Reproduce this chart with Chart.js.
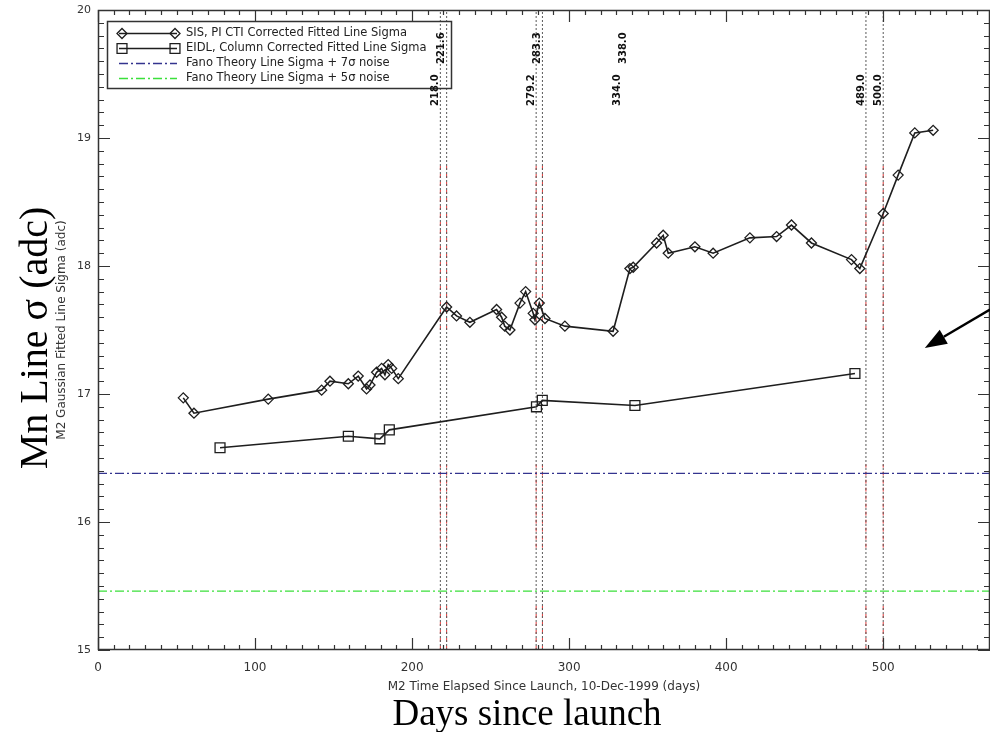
<!DOCTYPE html>
<html>
<head>
<meta charset="utf-8">
<script src="https://cdn.jsdelivr.net/npm/chart.js@4.4.1/dist/chart.umd.min.js"></script>
<style>
  html, body { margin: 0; padding: 0; background: #fff; overflow: hidden; }
  #wrap { position: relative; width: 990px; height: 732px; }
</style>
</head>
<body>
<div id="wrap"><canvas id="c" width="990" height="732"></canvas></div>
<script>
// M2 Mn K-alpha line width history: fitted Gaussian sigma vs days since launch

// SIS, PI CTI corrected fitted line sigma
const sisDays  = [54.3, 61.1, 108.4, 142.4, 147.7, 159.4, 165.7, 171.0, 173.2, 177.4, 180.6, 182.7, 184.8, 187.0, 191.2,
                  222.0, 228.3, 236.8, 253.8, 257.0, 259.0, 262.3, 268.7, 272.3, 277.1, 278.2, 281.0, 284.6, 297.3, 328.0,
                  338.7, 340.8, 355.7, 359.9, 363.1, 380.1, 391.7, 415.1, 432.1, 441.6, 454.3, 479.8, 485.1, 500.0, 509.5,
                  520.1, 531.8];
const sisSigma = [16.97, 16.85, 16.96, 17.03, 17.10, 17.08, 17.14, 17.04, 17.07, 17.17, 17.20, 17.15, 17.23, 17.20, 17.12,
                  17.68, 17.61, 17.56, 17.66, 17.60, 17.53, 17.50, 17.71, 17.80, 17.63, 17.58, 17.71, 17.59, 17.53, 17.49,
                  17.98, 17.99, 18.18, 18.24, 18.10, 18.15, 18.10, 18.22, 18.23, 18.32, 18.18, 18.05, 17.98, 18.41, 18.71,
                  19.04, 19.06];

// EIDL, column corrected fitted line sigma
const eidlDays  = [77.7, 159.4, 179.5, 185.5, 279.2, 282.9, 341.9, 482.0];
const eidlSigma = [16.58, 16.67, 16.65, 16.72, 16.90, 16.95, 16.91, 17.16];

// Fano theory levels
const fano7Sigma = 16.38;
const fano5Sigma = 15.46;

// Axis ranges
const dayRange   = [0, 568];
const sigmaRange = [15, 20];

// Instrument events (days) marked by vertical lines, and their notes
const eventDays     = [218, 222, 279, 283, 489, 500];
const eventRedSpans = [[15.0, 15.35], [15.8, 16.45], [17.5, 18.8]];
const noteDays  = [218, 222, 279, 283, 334, 338, 489, 500];
const noteTexts = ['218.0', '221.6', '279.2', '283.3', '334.0', '338.0', '489.0', '500.0'];

// Annotation arrow (day, sigma) tail -> head
const arrowTail = [568, 17.66];
const arrowHead = [526.5, 17.36];

const seriesLabels = [
  'SIS, PI CTI Corrected Fitted Line Sigma',
  'EIDL, Column Corrected Fitted Line Sigma',
  'Fano Theory Line Sigma + 7\u03c3 noise',
  'Fano Theory Line Sigma + 5\u03c3 noise'
];
const xTitle = 'M2 Time Elapsed Since Launch, 10-Dec-1999 (days)';
const yTitle = 'M2 Gaussian Fitted Line Sigma (adc)';
const bigXTitle = 'Days since launch';
const bigYTitle = 'Mn Line \u03c3 (adc)';

const pts = (xs, ys) => xs.map((x, i) => ({ x, y: ys[i] }));
const flat = v => [{ x: dayRange[0], y: v }, { x: dayRange[1], y: v }];

const datasets = [
  { label: seriesLabels[0], data: pts(sisDays, sisSigma), borderColor: '#1e1e1e', borderWidth: 1.6,
    pointStyle: 'rectRot', pointRadius: 5, pointBorderWidth: 1.3, pointBorderColor: '#1e1e1e',
    pointBackgroundColor: 'rgba(255,255,255,0)', tension: 0, order: 1 },
  { label: seriesLabels[1], data: pts(eidlDays, eidlSigma), borderColor: '#1e1e1e', borderWidth: 1.6,
    pointStyle: 'rect', pointRadius: 7, pointBorderWidth: 1.3, pointBorderColor: '#1e1e1e',
    pointBackgroundColor: 'rgba(255,255,255,0)', tension: 0, order: 1 },
  { label: seriesLabels[2], data: flat(fano7Sigma), borderColor: '#34348f', borderWidth: 1.4,
    borderDash: [9, 3, 2, 3], pointRadius: 0, order: 2 },
  { label: seriesLabels[3], data: flat(fano5Sigma), borderColor: '#3be03b', borderWidth: 1.4,
    borderDash: [9, 3, 2, 3], pointRadius: 0, order: 2 }
];

// dotted event lines
eventDays.forEach(d => datasets.push({
  label: '', data: [{ x: d, y: sigmaRange[0] }, { x: d, y: sigmaRange[1] }],
  borderColor: '#5a5a5a', borderWidth: 1, borderDash: [2, 2], pointRadius: 0, order: 3
}));
// red dashes over the event lines
const redData = [];
eventDays.forEach(d => eventRedSpans.forEach(s => {
  redData.push({ x: d, y: s[0] }, { x: d, y: s[1] }, { x: d, y: null });
}));
datasets.push({ label: '', data: redData, borderColor: '#e23a3a', borderWidth: 1, borderDash: [4, 4],
  pointRadius: 0, spanGaps: false, order: 3 });

const SMALL_FONT = '"DejaVu Sans", sans-serif';
const SERIF_FONT = '"Liberation Serif", "Times New Roman", serif';

const framePlugin = {
  id: 'frame',
  afterDatasetsDraw(chart) {
    const { ctx, chartArea: a, scales: { x, y } } = chart;
    ctx.save();

    // plot frame
    ctx.strokeStyle = '#333';
    ctx.lineWidth = 1.5;
    ctx.strokeRect(a.left + 0.5, a.top + 0.5, a.right - a.left - 1, a.bottom - a.top - 1);

    // inward ticks on all four sides
    ctx.lineWidth = 1.2;
    ctx.beginPath();
    for (let k = 0; k * 10 <= dayRange[1]; k++) {
      const px = Math.round(x.getPixelForValue(k * 10)) + 0.5;
      const len = k % 10 === 0 ? 12 : 5;
      ctx.moveTo(px, a.bottom); ctx.lineTo(px, a.bottom - len);
      ctx.moveTo(px, a.top);    ctx.lineTo(px, a.top + len);
    }
    for (let k = 0; k <= 50; k++) {
      const py = Math.round(y.getPixelForValue(sigmaRange[0] + k * 0.1)) + 0.5;
      const len = k % 10 === 0 ? 12 : 6;
      ctx.moveTo(a.left, py);  ctx.lineTo(a.left + len, py);
      ctx.moveTo(a.right, py); ctx.lineTo(a.right - len, py);
    }
    ctx.stroke();

    // legend box
    const lg = { left: 107, top: 21, right: 451, bottom: 88 };
    ctx.strokeStyle = '#333';
    ctx.lineWidth = 1.5;
    ctx.strokeRect(lg.left + 0.5, lg.top + 0.5, lg.right - lg.left, lg.bottom - lg.top);
    const rowY = [33, 48, 63, 78];
    ctx.font = '11.5px ' + SMALL_FONT;
    ctx.textBaseline = 'middle';
    ctx.textAlign = 'left';
    for (let i = 0; i < 4; i++) {
      const ds = chart.data.datasets[i];
      const yy = rowY[i] + 0.5;
      ctx.save();
      ctx.strokeStyle = ds.borderColor;
      ctx.lineWidth = ds.borderWidth;
      ctx.setLineDash(ds.borderDash || []);
      ctx.beginPath();
      ctx.moveTo(119, yy); ctx.lineTo(177, yy);
      ctx.stroke();
      ctx.restore();
      if (ds.pointRadius) {
        const opt = { pointStyle: ds.pointStyle, radius: ds.pointRadius, borderWidth: ds.pointBorderWidth };
        ctx.save();
        ctx.strokeStyle = ds.pointBorderColor;
        ctx.fillStyle = 'rgba(255,255,255,0)';
        ctx.lineWidth = ds.pointBorderWidth;
        Chart.helpers.drawPoint(ctx, opt, 122, yy);
        Chart.helpers.drawPoint(ctx, opt, 175, yy);
        ctx.restore();
      }
      ctx.fillStyle = '#222';
      ctx.fillText(ds.label, 186, yy);
    }

    // event notes, rotated
    ctx.font = 'bold 10px ' + SMALL_FONT;
    ctx.fillStyle = '#111';
    ctx.textBaseline = 'middle';
    ctx.textAlign = 'left';
    noteDays.forEach((d, i) => {
      const raised = i > 0 && d - noteDays[i - 1] < 6;
      const px = x.getPixelForValue(d) - 5;
      ctx.save();
      ctx.translate(px, raised ? 64 : 106);
      ctx.rotate(-Math.PI / 2);
      ctx.fillText(noteTexts[i], 0, 0);
      ctx.restore();
    });

    ctx.restore();
  },
  afterDraw(chart) {
    const { ctx, scales: { x, y } } = chart;
    ctx.save();
    // annotation arrow
    const x0 = x.getPixelForValue(arrowTail[0]), y0 = y.getPixelForValue(arrowTail[1]);
    const x1 = x.getPixelForValue(arrowHead[0]), y1 = y.getPixelForValue(arrowHead[1]);
    const ang = Math.atan2(y1 - y0, x1 - x0);
    const headLen = 22, headW = 8;
    const bx = x1 - headLen * Math.cos(ang), by = y1 - headLen * Math.sin(ang);
    ctx.strokeStyle = '#000';
    ctx.fillStyle = '#000';
    ctx.lineWidth = 2.4;
    ctx.beginPath();
    ctx.moveTo(x0, y0); ctx.lineTo(bx, by);
    ctx.stroke();
    ctx.beginPath();
    ctx.moveTo(x1, y1);
    ctx.lineTo(bx + headW * Math.sin(ang), by - headW * Math.cos(ang));
    ctx.lineTo(bx - headW * Math.sin(ang), by + headW * Math.cos(ang));
    ctx.closePath();
    ctx.fill();

    // large axis captions
    ctx.fillStyle = '#000';
    ctx.textAlign = 'center';
    ctx.textBaseline = 'alphabetic';
    ctx.font = '37px ' + SERIF_FONT;
    ctx.fillText(bigXTitle, 527, 725);
    ctx.save();
    ctx.font = '40px ' + SERIF_FONT;
    ctx.translate(47, 338);
    ctx.rotate(-Math.PI / 2);
    ctx.fillText(bigYTitle, 0, 0);
    ctx.restore();
    ctx.restore();
  }
};

Chart.defaults.font.family = SMALL_FONT;

new Chart(document.getElementById('c'), {
  type: 'line',
  data: { datasets },
  options: {
    responsive: false,
    animation: false,
    devicePixelRatio: 1,
    layout: { autoPadding: false, padding: { top: 10, right: 0, left: 0, bottom: 0 } },
    plugins: { legend: { display: false }, tooltip: { enabled: false }, title: { display: false } },
    scales: {
      x: {
        type: 'linear', position: 'bottom', min: dayRange[0], max: dayRange[1],
        grid: { display: false, drawTicks: false }, border: { display: false },
        ticks: { stepSize: 100, includeBounds: false, autoSkip: false, maxRotation: 0, padding: 11,
                 color: '#333', font: { size: 12 } },
        title: { display: true, text: xTitle, color: '#333', font: { size: 12 }, padding: { top: 0, bottom: 38 } },
        afterFit(s) { s.height = 82; s.paddingLeft = 0; s.paddingRight = 0; }
      },
      y: {
        type: 'linear', position: 'left', min: sigmaRange[0], max: sigmaRange[1],
        grid: { display: false, drawTicks: false }, border: { display: false },
        ticks: { stepSize: 1, padding: 7, color: '#333', font: { size: 11 } },
        title: { display: true, text: yTitle, color: '#333', font: { size: 12 }, padding: { top: 55, bottom: 0 } },
        afterFit(s) { s.width = 98; s.paddingTop = 0; s.paddingBottom = 0; }
      }
    }
  },
  plugins: [framePlugin]
});
</script>
</body>
</html>
